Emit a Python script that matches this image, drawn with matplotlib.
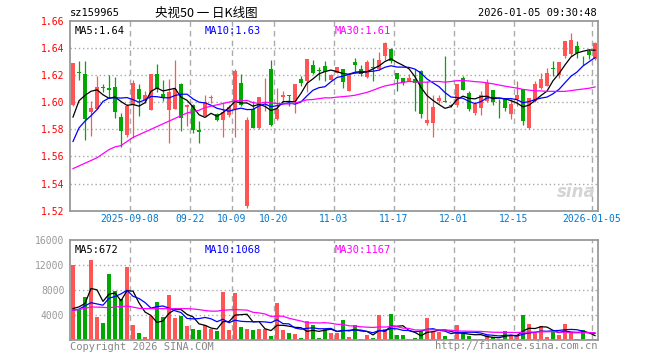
#!/usr/bin/env python3
"""
Daily K-line chart for sz159965 (央视50), Sina style.
Usage: python3 plot.py
"""

import numpy as np
import pandas as pd
import matplotlib
matplotlib.use('Agg')
import matplotlib.pyplot as plt

# ---- data (88 trading days, 2025-08-25 .. 2026-01-05) ----
opens = [1.5980, 1.6222, 1.6209, 1.5930, 1.5950, 1.6111, 1.6107, 1.6112, 1.5892, 1.5755,
         1.5978, 1.6097, 1.6015, 1.5945, 1.6210, 1.6062, 1.5942, 1.5951, 1.6130, 1.5966,
         1.5976, 1.5795, 1.5895, 1.6032, 1.5910, 1.5868, 1.5905, 1.5951, 1.6138, 1.5236,
         1.5947, 1.5807, 1.6145, 1.6246, 1.5873, 1.6037, 1.6050, 1.6007, 1.6167, 1.6155,
         1.6277, 1.6232, 1.6265, 1.6162, 1.6216, 1.6241, 1.6081, 1.6297, 1.6246, 1.6187,
         1.6260, 1.6241, 1.6339, 1.6388, 1.6211, 1.6179, 1.6155, 1.6172, 1.6228, 1.5849,
         1.5849, 1.6007, 1.6005, 1.5976, 1.5976, 1.6179, 1.6064, 1.5917, 1.5956, 1.6007,
         1.6089, 1.5974, 1.6020, 1.5910, 1.6020, 1.6099, 1.5812, 1.6007, 1.6106, 1.6118,
         1.6248, 1.6197, 1.6339, 1.6351, 1.6417, 1.6312, 1.6375, 1.6319]
highs = [1.6290, 1.6304, 1.6304, 1.6010, 1.6190, 1.6135, 1.6200, 1.6182, 1.5920, 1.5985,
         1.6160, 1.6130, 1.6085, 1.6210, 1.6278, 1.6160, 1.6167, 1.6309, 1.6143, 1.5983,
         1.5983, 1.5861, 1.6050, 1.6050, 1.5922, 1.6002, 1.5980, 1.6241, 1.6204, 1.5890,
         1.6007, 1.6040, 1.6179, 1.6309, 1.6106, 1.6081, 1.6054, 1.6135, 1.6192, 1.6320,
         1.6309, 1.6260, 1.6304, 1.6204, 1.6262, 1.6241, 1.6200, 1.6326, 1.6277, 1.6314,
         1.6326, 1.6371, 1.6440, 1.6400, 1.6211, 1.6180, 1.6204, 1.6241, 1.6236, 1.6155,
         1.6050, 1.6050, 1.6339, 1.5983, 1.6130, 1.6192, 1.6081, 1.5983, 1.6081, 1.6167,
         1.6090, 1.6020, 1.6020, 1.6020, 1.6155, 1.6100, 1.6032, 1.6155, 1.6216, 1.6253,
         1.6302, 1.6295, 1.6450, 1.6510, 1.6454, 1.6339, 1.6388, 1.6440]
lows = [1.5975, 1.6162, 1.5721, 1.5748, 1.5950, 1.6078, 1.6030, 1.5883, 1.5670, 1.5745,
        1.5738, 1.5898, 1.5995, 1.5945, 1.6075, 1.6005, 1.5701, 1.5951, 1.5790, 1.5822,
        1.5775, 1.5700, 1.5895, 1.5995, 1.5861, 1.5745, 1.5890, 1.5745, 1.5970, 1.5222,
        1.5807, 1.5800, 1.5934, 1.5824, 1.5870, 1.6007, 1.5971, 1.5922, 1.6118, 1.6074,
        1.6204, 1.6162, 1.6155, 1.6160, 1.6216, 1.6106, 1.6080, 1.6216, 1.6192, 1.6179,
        1.6155, 1.6240, 1.6314, 1.6290, 1.6081, 1.6123, 1.6155, 1.5934, 1.5883, 1.5829,
        1.5745, 1.5995, 1.6000, 1.5966, 1.5966, 1.6089, 1.5934, 1.5902, 1.5902, 1.6000,
        1.5976, 1.5885, 1.5934, 1.5873, 1.5971, 1.5829, 1.5800, 1.6000, 1.6094, 1.6118,
        1.6192, 1.6179, 1.6326, 1.6339, 1.6326, 1.6277, 1.6319, 1.6314]
closes = [1.6290, 1.6216, 1.5878, 1.5955, 1.6115, 1.6106, 1.6087, 1.5925, 1.5790, 1.5972,
          1.6140, 1.6025, 1.6052, 1.6208, 1.6095, 1.6032, 1.6074, 1.6099, 1.5885, 1.5976,
          1.5792, 1.5783, 1.6000, 1.6037, 1.5868, 1.5927, 1.5965, 1.6228, 1.5981, 1.5868,
          1.5807, 1.6037, 1.6150, 1.5829, 1.5947, 1.6054, 1.6045, 1.6135, 1.6143, 1.6319,
          1.6216, 1.6228, 1.6221, 1.6197, 1.6260, 1.6148, 1.6197, 1.6273, 1.6204, 1.6297,
          1.6253, 1.6307, 1.6437, 1.6302, 1.6167, 1.6143, 1.6179, 1.6143, 1.5910, 1.5866,
          1.5966, 1.6027, 1.6003, 1.5971, 1.6130, 1.6089, 1.5947, 1.5983, 1.6054, 1.6143,
          1.6000, 1.5969, 1.5959, 1.5983, 1.6054, 1.5861, 1.6032, 1.6130, 1.6167, 1.6216,
          1.6243, 1.6295, 1.6449, 1.6461, 1.6363, 1.6307, 1.6344, 1.6437]
volumes = [12000, 4800, 6933, 12800, 3733, 2773, 10560, 7840, 6667, 11733,
           2400, 1227, 533, 3893, 6133, 3733, 7200, 3573, 3893, 2293,
           1760, 1600, 2400, 1760, 1440, 7733, 1600, 7573, 2133, 1760,
           1600, 1867, 1867, 640, 5973, 1600, 1173, 960, 373, 3040,
           2400, 373, 1867, 1173, 1173, 3200, 533, 2400, 160, 800,
           373, 4000, 1867, 4160, 800, 800, 160, 373, 1440, 3573,
           1333, 1333, 640, 160, 2400, 1067, 640, 160, 267, 800,
           533, 267, 1440, 800, 800, 4000, 2560, 1227, 2240, 533,
           1333, 800, 2560, 1333, 267, 1600, 267, 267]

# moving-average values at the left edge (they need history before the first day)
ma5_head = [1.589, 1.601, 1.605, 1.608]
ma10_head = [1.571, 1.581, 1.586, 1.590, 1.5945, 1.6005, 1.603, 1.6032, 1.6030]
ma30_head = [1.551, 1.553, 1.555, 1.557, 1.559, 1.562, 1.565, 1.567, 1.568, 1.571,
             1.574, 1.576, 1.578, 1.580, 1.582, 1.584, 1.586, 1.588, 1.590, 1.592,
             1.593, 1.594, 1.596, 1.597, 1.598, 1.599, 1.600, 1.601, 1.601]
vma5_head = [5067, 5333, 5867, 8267]
vma10_head = [4800, 4960, 5500, 6000, 5800, 5600, 6700, 7000, 7400]
vma30_head = [4800, 4900, 5100, 5300, 5300, 5250, 5200, 5300, 5400, 5450,
              5300, 5100, 5050, 5050, 5050, 5050, 5050, 5050, 5050, 5050,
              5000, 4900, 4750, 4650, 4650, 4800, 4850, 4900, 4850]

date_pos = [10, 20, 27, 34, 44, 54, 64, 74, 87]
date_labels = ['2025-09-08', '09-22', '10-09', '10-20', '11-03', '11-17',
               '12-01', '12-15', '2026-01-05']

RED = '#ff5555'
GREEN = '#00a800'
GRID = '#aaaaaa'
MONO = 'DejaVu Sans Mono'


def moving_avg(values, n, head):
    s = pd.Series(values, dtype=float).rolling(n).mean()
    s.iloc[:len(head)] = head
    return s.values


x = np.arange(len(closes))
o = np.array(opens)
c = np.array(closes)
up = c >= o
colors = np.where(up, RED, GREEN)

fig = plt.figure(figsize=(6.6, 3.6), dpi=100)
W, H = 660.0, 360.0
AW = 528.0
ax = fig.add_axes([70 / W, 1 - 210.7 / H, AW / W, 190 / H])
axv = fig.add_axes([70 / W, 1 - 340.3 / H, AW / W, 100.3 / H])

for a in (ax, axv):
    a.set_xlim(-0.5, len(closes) - 0.5)
    for s in a.spines.values():
        s.set_color('#999999')
        s.set_linewidth(1.3)
    a.set_xticks([])
    a.tick_params(length=0)
    for p in date_pos:
        a.axvline(p - 0.5, color=GRID, lw=1.0, ls=(0, (4, 3)), zorder=0)

# ---- price panel ----
ax.set_ylim(1.52, 1.66)
yt = [1.52, 1.54, 1.56, 1.58, 1.60, 1.62, 1.64, 1.66]
ax.set_yticks(yt)
ax.set_yticklabels(['%.2f' % v for v in yt], color='#ff0000', family=MONO, fontsize=7)
ax.tick_params(axis='y', pad=4)
for v in yt[1:-1]:
    ax.axhline(v, color=GRID, lw=1.0, ls=(0, (1, 2)), zorder=0)

body = np.maximum(np.abs(c - o), 0.0006)
ax.vlines(x, lows, highs, colors=colors, lw=0.9, zorder=2)
ax.bar(x, body, bottom=np.minimum(o, c), width=0.8, color=colors, lw=0, zorder=3)

ax.plot(x, moving_avg(closes, 5, ma5_head), color='black', lw=0.9, zorder=4)
ax.plot(x, moving_avg(closes, 10, ma10_head), color='#0000ff', lw=0.9, zorder=4)
ax.plot(x, moving_avg(closes, 30, ma30_head), color='#ff00ff', lw=0.9, zorder=4)

ax.text(5 / AW, 0.97, 'MA5:1.64', transform=ax.transAxes, family=MONO, fontsize=7.5,
        color='black', va='top')
ax.text(135 / AW, 0.97, 'MA10:1.63', transform=ax.transAxes, family=MONO, fontsize=7.5,
        color='#0000ff', va='top')
ax.text(265 / AW, 0.97, 'MA30:1.61', transform=ax.transAxes, family=MONO, fontsize=7.5,
        color='#ff00ff', va='top')
ax.text(0.995, 0.05, 'sina', transform=ax.transAxes, fontsize=12, fontweight='bold',
        style='italic', color='#d4d4d4', ha='right', va='bottom', zorder=1)

for p, lab in zip(date_pos, date_labels):
    ax.text(p - 0.5, 1.5175, lab, ha='center', va='top', family=MONO, fontsize=7,
            color='#0078d0')

# ---- volume panel ----
axv.set_ylim(0, 16000)
vt = [4000, 8000, 12000, 16000]
axv.set_yticks(vt)
axv.set_yticklabels([str(v) for v in vt], color='#999999', family=MONO, fontsize=7)
axv.tick_params(axis='y', pad=4)
for v in vt[:-1]:
    axv.axhline(v, color=GRID, lw=1.0, ls=(0, (1, 2)), zorder=0)

axv.bar(x, volumes, width=0.8, color=colors, lw=0, zorder=2)
axv.plot(x, moving_avg(volumes, 5, vma5_head), color='black', lw=0.9, zorder=3)
axv.plot(x, moving_avg(volumes, 10, vma10_head), color='#0000ff', lw=0.9, zorder=3)
axv.plot(x, moving_avg(volumes, 30, vma30_head), color='#ff00ff', lw=0.9, zorder=3)

axv.text(5 / AW, 0.95, 'MA5:672', transform=axv.transAxes, family=MONO, fontsize=7.5,
         color='black', va='top')
axv.text(135 / AW, 0.95, 'MA10:1068', transform=axv.transAxes, family=MONO, fontsize=7.5,
         color='#0000ff', va='top')
axv.text(265 / AW, 0.95, 'MA30:1167', transform=axv.transAxes, family=MONO, fontsize=7.5,
         color='#ff00ff', va='top')

# ---- header / footer ----
fig.text(70 / W, 1 - 13 / H, 'sz159965', family=MONO, fontsize=7.5, va='center')
fig.text(206 / W, 1 - 13 / H, '央视50 一 日K线图', family=['Noto Sans CJK SC', 'DejaVu Sans'],
         fontsize=9, ha='center', va='center')
fig.text(597 / W, 1 - 13 / H, '2026-01-05 09:30:48', family=MONO, fontsize=7.5,
         ha='right', va='center')
fig.text(70 / W, 1 - 347 / H, 'Copyright 2026 SINA.COM', family=MONO, fontsize=7.5,
         color='#888888', va='center')
fig.text(597 / W, 1 - 346 / H, 'http://finance.sina.com.cn', family=MONO, fontsize=7.5,
         color='#888888', ha='right', va='center')

fig.savefig('out.png', dpi=100)
print("saved out.png")
